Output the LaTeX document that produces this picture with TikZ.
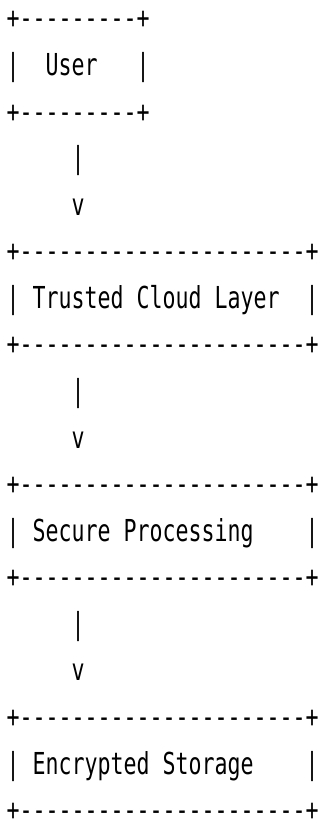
\documentclass[tikz,border=0pt]{standalone}
\usepackage{fontspec}
\setmonofont{DejaVu Sans Mono}
\begin{document}
\begin{tikzpicture}[x=1pt,y=1pt,
  asc/.style={anchor=base west, inner sep=0pt, outer sep=0pt,
    font=\ttfamily\fontsize{21.6}{24}\selectfont,
    yscale=1.4, transform shape}]
  \fill[white] (0,0) rectangle (322,823);
  \useasboundingbox (0,0) rectangle (322,823);
  % text rows: left edge of column 0 at x = 6.5, baselines 46.565pt apart
  \def\rowx{6.5}
  \def\rowy#1{794-(#1-1)*46.565}
  % User box
  \node[asc] (userT) at (\rowx,{\rowy{1}}) {+---------+};
  \node[asc] (userM) at (\rowx,{\rowy{2}}) {|\ \ User\ \ \ |};
  \node[asc] (userB) at (\rowx,{\rowy{3}}) {+---------+};
  % arrow to the trusted layer
  \node[asc] (arrAs) at (\rowx,{\rowy{4}}) {\ \ \ \ \ |};
  \node[asc] (arrAh) at (\rowx,{\rowy{5}}) {\ \ \ \ \ v};
  % Trusted Cloud Layer box
  \node[asc] (trustT) at (\rowx,{\rowy{6}}) {+----------------------+};
  \node[asc] (trustM) at (\rowx,{\rowy{7}}) {|\ Trusted\ Cloud\ Layer\ \ |};
  \node[asc] (trustB) at (\rowx,{\rowy{8}}) {+----------------------+};
  % arrow to processing
  \node[asc] (arrBs) at (\rowx,{\rowy{9}}) {\ \ \ \ \ |};
  \node[asc] (arrBh) at (\rowx,{\rowy{10}}) {\ \ \ \ \ v};
  % Secure Processing box
  \node[asc] (secT) at (\rowx,{\rowy{11}}) {+----------------------+};
  \node[asc] (secM) at (\rowx,{\rowy{12}}) {|\ Secure\ Processing\ \ \ \ |};
  \node[asc] (secB) at (\rowx,{\rowy{13}}) {+----------------------+};
  % arrow to storage
  \node[asc] (arrCs) at (\rowx,{\rowy{14}}) {\ \ \ \ \ |};
  \node[asc] (arrCh) at (\rowx,{\rowy{15}}) {\ \ \ \ \ v};
  % Encrypted Storage box
  \node[asc] (encT) at (\rowx,{\rowy{16}}) {+----------------------+};
  \node[asc] (encM) at (\rowx,{\rowy{17}}) {|\ Encrypted\ Storage\ \ \ \ |};
  \node[asc] (encB) at (\rowx,{\rowy{18}}) {+----------------------+};
\end{tikzpicture}
\end{document}
